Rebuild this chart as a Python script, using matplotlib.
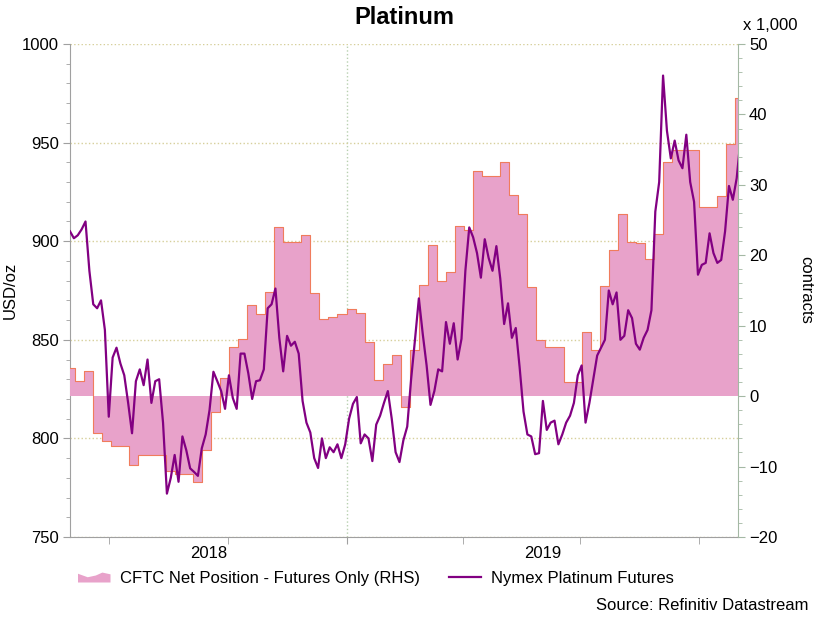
import matplotlib
matplotlib.use("Agg")
import matplotlib.pyplot as plt
import matplotlib.dates as mdates
from matplotlib.ticker import MultipleLocator, NullFormatter
from matplotlib.patches import Polygon
from matplotlib.lines import Line2D
from matplotlib.legend_handler import HandlerPatch
import pandas as pd

plt.rcParams['font.family'] = ['Liberation Sans', 'DejaVu Sans']
plt.rcParams['font.size'] = 12

# CFTC net position, futures only (thousand contracts), weekly
cftc = [4.0, 2.1, 3.5, -5.3, -6.3, -7.1, -7.1, -9.8, -8.3, -8.3,
        -8.3, -10.6, -11.0, -11.0, -12.2, -7.6, -2.2, 2.6, 7.0, 8.1,
        12.9, 11.6, 14.8, 24.0, 21.9, 21.9, 22.9, 14.6, 11.0, 11.3,
        11.6, 12.4, 11.8, 7.7, 2.3, 4.6, 5.8, -1.5, 6.5, 15.8,
        21.4, 16.4, 17.6, 24.1, 23.6, 31.9, 31.2, 31.2, 33.3, 28.6,
        25.8, 15.5, 8.0, 7.0, 7.0, 2.0, 2.0, 9.1, 6.6, 15.6,
        20.8, 25.8, 21.9, 21.8, 19.5, 23.0, 33.2, 35.0, 35.0, 35.0,
        26.8, 26.8, 28.4, 35.8, 42.4]
cftc_dates = pd.date_range('2018-05-29', periods=len(cftc), freq='7D')

# Nymex platinum futures (USD/oz), read every 3 days
price = [905, 901.5, 903, 906, 910, 885, 868, 866, 870, 855,
         811, 841, 846, 838, 832, 818, 802.6, 829, 835, 827,
         840, 818, 829, 830, 808, 772, 780, 791.6, 778, 801,
         794, 784.8, 783, 781, 795, 802, 814.4, 833.8, 829, 824,
         815, 832, 820.5, 815, 843, 843, 833, 820, 829, 829.5,
         835, 866, 868, 876, 851, 834, 852, 847, 849, 843,
         819, 808, 803, 790, 785, 800, 790, 795.5, 793, 797,
         790, 797, 810, 817.5, 821, 797.5, 802, 800, 788.5, 807,
         811.5, 818, 824, 810, 793, 788, 799, 806, 830, 850,
         871, 853, 837, 817, 824, 835, 834, 859, 848, 858.4,
         840, 850.5, 885, 907, 902, 894, 881.5, 901, 891.5, 885,
         897.5, 881, 858, 868.5, 851, 856, 836, 813.6, 802, 801,
         792, 792.5, 819, 804.3, 808, 809, 797, 802, 808, 811.5,
         818, 832, 837, 808, 818, 830, 842, 846, 850, 875,
         868, 874, 850, 852, 865, 861, 848, 845, 851, 855,
         865, 915, 930, 984, 956, 942, 951, 941, 937, 954,
         930, 920, 883, 888, 889, 904, 894, 889, 890.5, 905,
         928, 921, 932, 952]
price_dates = pd.date_range('2018-06-01', periods=len(price), freq='3D')

fill_color = '#E8A2CA'
edge_color = '#F07C5C'
line_color = '#820082'
axis_gray = '#a0a0a0'

fig = plt.figure(figsize=(8.24, 6.31), dpi=100)
ax1 = fig.add_axes([70 / 824, 94 / 631, 668 / 824, 493 / 631])
ax2 = ax1.twinx()

# CFTC area on the right scale (extend last weekly value one week)
step_x = list(cftc_dates) + [cftc_dates[-1] + pd.Timedelta(days=7)]
step_y = cftc + [cftc[-1]]
ax2.fill_between(step_x, 0, step_y, step='post', facecolor=fill_color,
                 edgecolor='none', linewidth=0)
ax2.step(step_x, step_y, where='post', color=edge_color, linewidth=0.8)

# price line drawn above the area but scaled by the left axis
ax2.plot(price_dates, price, color=line_color, linewidth=1.6,
         transform=ax1.transData)

ax1.set_ylim(750, 1000)
ax2.set_ylim(-20, 50)
ax1.set_xlim(pd.Timestamp('2018-06-01'), pd.Timestamp('2019-10-31'))

ax1.yaxis.set_major_locator(MultipleLocator(50))
ax1.yaxis.set_minor_locator(MultipleLocator(10))
ax2.yaxis.set_major_locator(MultipleLocator(10))
ax2.yaxis.set_minor_locator(MultipleLocator(2))

ax1.xaxis.set_major_locator(mdates.YearLocator())
ax1.xaxis.set_minor_locator(mdates.MonthLocator([1, 4, 7, 10]))
ax1.xaxis.set_major_formatter(NullFormatter())
ax1.xaxis.set_minor_formatter(NullFormatter())

ax1.grid(axis='y', which='major', linestyle=':', color='#d6cf9a', linewidth=1)
ax1.grid(axis='x', which='major', linestyle=':', color='#b8d0b0', linewidth=1)

for sp in ['top', 'right']:
    ax1.spines[sp].set_visible(False)
for sp in ['top', 'left', 'bottom']:
    ax2.spines[sp].set_visible(False)
ax1.spines['left'].set_color(axis_gray)
ax1.spines['bottom'].set_color(axis_gray)
ax2.spines['right'].set_color('#a4b8a4')

ax1.tick_params(axis='y', which='major', length=5, color=axis_gray, pad=3, labelsize=12)
ax1.tick_params(axis='y', which='minor', length=3, color=axis_gray)
ax1.tick_params(axis='x', which='both', length=5, color=axis_gray)
ax2.tick_params(axis='y', which='major', length=5, color='#a4b8a4', pad=3, labelsize=12)
ax2.tick_params(axis='y', which='minor', length=3, color='#a4b8a4')

# year labels centred on the visible part of each year
x0, x1 = ax1.get_xlim()
yb = mdates.date2num(pd.Timestamp('2019-01-01'))
for xc, lab in [((x0 + yb) / 2, '2018'), ((yb + x1) / 2, '2019')]:
    ax1.text(xc, -0.033, lab, transform=ax1.get_xaxis_transform(),
             ha='center', va='center', fontsize=12)

fig.text(404 / 824, 1 - 17 / 631, 'Platinum', ha='center', va='center',
         fontsize=17, fontweight='bold')
fig.text(770 / 824, 1 - 26 / 631, 'x 1,000', ha='center', va='center', fontsize=12)
fig.text(10 / 824, 1 - 290 / 631, 'USD/oz', rotation=90, ha='center', va='center', fontsize=12)
fig.text(806 / 824, 1 - 290 / 631, 'contracts', rotation=-90, ha='center', va='center', fontsize=12)
fig.text(808 / 824, 1 - 605 / 631, 'Source: Refinitiv Datastream', ha='right', va='center', fontsize=12)


def area_icon(legend, orig_handle, xdescent, ydescent, width, height, fontsize):
    pts = [(0, 0), (0, 0.75), (0.3, 0.45), (0.55, 0.6), (0.75, 0.85),
           (1.0, 0.7), (1.0, 0)]
    return Polygon([(-xdescent + px * width, -ydescent + py * height) for px, py in pts],
                   closed=True)


area_handle = Polygon([(0, 0), (1, 1), (1, 0)], facecolor=fill_color, edgecolor='none')
line_handle = Line2D([], [], color=line_color, linewidth=1.6)
fig.legend([area_handle, line_handle],
           ['CFTC Net Position - Futures Only (RHS)', 'Nymex Platinum Futures'],
           loc='center left', bbox_to_anchor=(78 / 824, 1 - 578 / 631),
           ncol=2, frameon=False, fontsize=12, handlelength=1.95,
           handletextpad=0.6, columnspacing=1.7, borderpad=0, borderaxespad=0,
           handler_map={Polygon: HandlerPatch(patch_func=area_icon)})

fig.savefig('out.png', dpi=100)
